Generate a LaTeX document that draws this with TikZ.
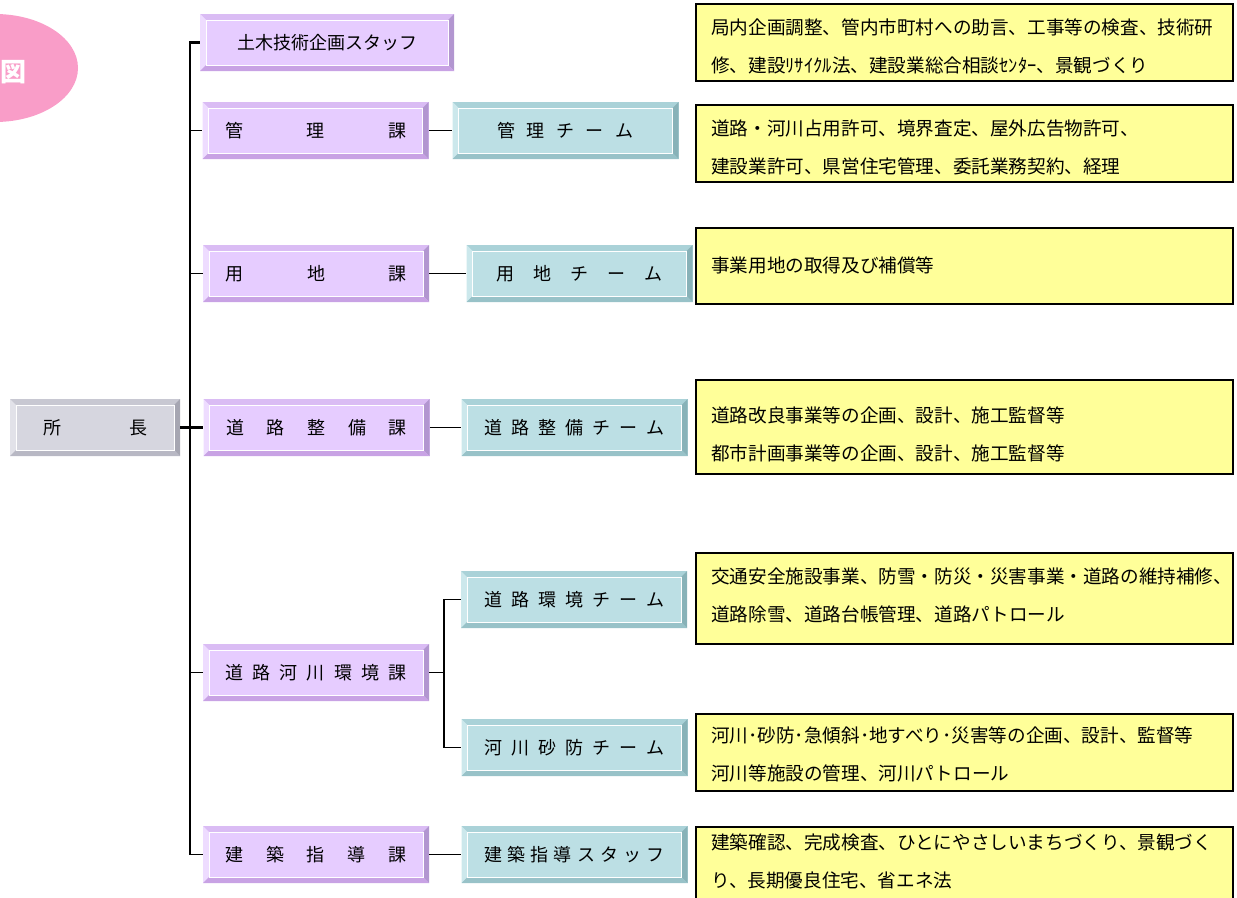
\documentclass[tikz,border=0pt]{standalone}
\usepackage{fontspec}
\setmainfont{Noto Sans CJK JP}
\usetikzlibrary{calc}

\definecolor{pinkbg}{RGB}{249,157,200}
\definecolor{memofill}{RGB}{255,255,153}
\definecolor{secface}{RGB}{230,204,255}
\definecolor{sectop}{RGB}{218,188,244}
\definecolor{secleft}{RGB}{238,220,255}
\definecolor{secright}{RGB}{178,150,208}
\definecolor{secbot}{RGB}{200,162,228}
\definecolor{teamface}{RGB}{188,223,228}
\definecolor{teamtop}{RGB}{170,210,216}
\definecolor{teamleft}{RGB}{204,232,236}
\definecolor{teamright}{RGB}{136,178,184}
\definecolor{teambot}{RGB}{152,194,200}
\definecolor{chiefface}{RGB}{214,214,223}
\definecolor{chieftop}{RGB}{200,200,210}
\definecolor{chiefleft}{RGB}{226,226,233}
\definecolor{chiefright}{RGB}{166,166,178}
\definecolor{chiefbot}{RGB}{184,184,196}

\tikzset{
  bevel/.style n args={5}{fill=#1, inner sep=0pt, minimum height=57pt,
    font=\fontsize{18}{20}\selectfont,
    path picture={
      \path (path picture bounding box.north west) coordinate (pnw)
            (path picture bounding box.north east) coordinate (pne)
            (path picture bounding box.south east) coordinate (pse)
            (path picture bounding box.south west) coordinate (psw);
      \fill[#2] (pnw) -- (pne) -- ([shift={(-6pt,-6pt)}]pne) -- ([shift={(6pt,-6pt)}]pnw) -- cycle;
      \fill[#3] (pnw) -- (psw) -- ([shift={(6pt,6pt)}]psw) -- ([shift={(6pt,-6pt)}]pnw) -- cycle;
      \fill[#4] (pne) -- (pse) -- ([shift={(-6pt,6pt)}]pse) -- ([shift={(-6pt,-6pt)}]pne) -- cycle;
      \fill[#5] (psw) -- (pse) -- ([shift={(-6pt,6pt)}]pse) -- ([shift={(6pt,6pt)}]psw) -- cycle;
      \draw[white, line width=0.9pt] ([shift={(6pt,-6pt)}]pnw) rectangle ([shift={(-6pt,6pt)}]pse);
    }},
  sect/.style={bevel={secface}{sectop}{secleft}{secright}{secbot}, minimum width=226pt},
  team/.style={bevel={teamface}{teamtop}{teamleft}{teamright}{teambot}, minimum width=226pt},
  chief/.style={bevel={chiefface}{chieftop}{chiefleft}{chiefright}{chiefbot}, minimum width=170pt},
  memo/.style={draw=black, line width=1.8pt, fill=memofill, anchor=north west,
    minimum width=537pt, inner sep=0pt},
  memotext/.style={anchor=west, align=left, inner sep=0pt,
    font=\fontsize{18.6}{38}\selectfont},
  trunk/.style={line width=2.6pt},
  branch/.style={line width=1.8pt}
}
\newcommand{\spread}[2]{\makebox[#1pt][s]{#2}}

\begin{document}
\begin{tikzpicture}[x=1pt,y=-1pt]
  \useasboundingbox (0,0) rectangle (1237,897);
  % title badge
  \fill[pinkbg] (-5,68) ellipse [x radius=83pt, y radius=54pt];
  \node[text=white, font=\fontsize{26}{28}\selectfont\bfseries] (badge) at (14,72) {図};
  % chief and sections
  \node[chief] (chief) at (95,427.5) {\spread{104}{所\hfill 長}};
  \node[sect, minimum width=254pt] (staff) at (327,42.5) {土木技術企画スタッフ};
  \node[sect] (kanri) at (315.5,130.5) {\spread{181}{管\hfill 理\hfill 課}};
  \node[sect] (yochi) at (316,273.5) {\spread{181}{用\hfill 地\hfill 課}};
  \node[sect] (seibi) at (316.5,427.5) {\spread{181}{道\hfill 路\hfill 整\hfill 備\hfill 課}};
  \node[sect] (kankyo) at (316,672.5) {\spread{181}{道\hfill 路\hfill 河\hfill 川\hfill 環\hfill 境\hfill 課}};
  \node[sect] (kenchiku) at (316,854.5) {\spread{181}{建\hfill 築\hfill 指\hfill 導\hfill 課}};
  % teams
  \node[team] (kanriT) at (565.5,130.5) {\spread{136}{管\hfill 理\hfill チ\hfill ー\hfill ム}};
  \node[team] (yochiT) at (579.5,273.5) {\spread{166}{用\hfill 地\hfill チ\hfill ー\hfill ム}};
  \node[team] (seibiT) at (574.5,427.5) {\spread{180}{道\hfill 路\hfill 整\hfill 備\hfill チ\hfill ー\hfill ム}};
  \node[team] (kankyoT) at (574,599.5) {\spread{180}{道\hfill 路\hfill 環\hfill 境\hfill チ\hfill ー\hfill ム}};
  \node[team] (sabouT) at (574.5,747.5) {\spread{180}{河\hfill 川\hfill 砂\hfill 防\hfill チ\hfill ー\hfill ム}};
  \node[team] (kenchikuT) at (574.5,854.5) {\spread{180}{建\hfill 築\hfill 指\hfill 導\hfill ス\hfill タ\hfill ッ\hfill フ}};
  % duties
  \node[memo, minimum height=77pt] (m1) at (695,3) {};
  \node[memo, minimum height=77pt] (m2) at (695,104) {};
  \node[memo, minimum height=76pt] (m3) at (695,227) {};
  \node[memo, minimum height=94pt] (m4) at (695,379) {};
  \node[memo, minimum height=91pt] (m5) at (695,552) {};
  \node[memo, minimum height=77pt] (m6) at (695,713) {};
  \node[memo, minimum height=80pt] (m7) at (695,826) {};
  \node[memotext] (t1) at (711,46) {局内企画調整、管内市町村への助言、工事等の検査、技術研\\修、建設ﾘｻｲｸﾙ法、建設業総合相談ｾﾝﾀｰ、景観づくり};
  \node[memotext] (t2) at (711,147.5) {道路・河川占用許可、境界査定、屋外広告物許可、\\建設業許可、県営住宅管理、委託業務契約、経理};
  \node[memotext] (t3) at (711,265) {事業用地の取得及び補償等};
  \node[memotext] (t4) at (711,434.5) {道路改良事業等の企画、設計、施工監督等\\都市計画事業等の企画、設計、施工監督等};
  \node[memotext] (t5) at (711,595.5) {交通安全施設事業、防雪・防災・災害事業・道路の維持補修、\\道路除雪、道路台帳管理、道路パトロール};
  \node[memotext] (t6) at (711,754) {河川･砂防･急傾斜･地すべり･災害等の企画、設計、監督等\\河川等施設の管理、河川パトロール};
  \node[memotext] (t7) at (711,861) {建築確認、完成検査、ひとにやさしいまちづくり、景観づく\\り、長期優良住宅、省エネ法};
  % connectors
  \coordinate (sp) at (190,427.5);
  \coordinate (fork) at (444,672.5);
  \draw[trunk] (staff.west) -| (sp);
  \draw[trunk] (chief.east) -- (seibi.west);
  \draw[branch] (sp) |- (kenchiku.west);
  \foreach \s in {kanri,yochi,kankyo}
    \draw[branch] (\s.west -| sp) -- (\s.west);
  \foreach \s in {kanri,yochi,seibi,kenchiku}
    \draw[branch] (\s.east) -- (\s T.west);
  \draw[branch] (kankyo.east) -- (fork);
  \draw[branch] (kankyoT.west) -| (fork) |- (sabouT.west);
\end{tikzpicture}
\end{document}
